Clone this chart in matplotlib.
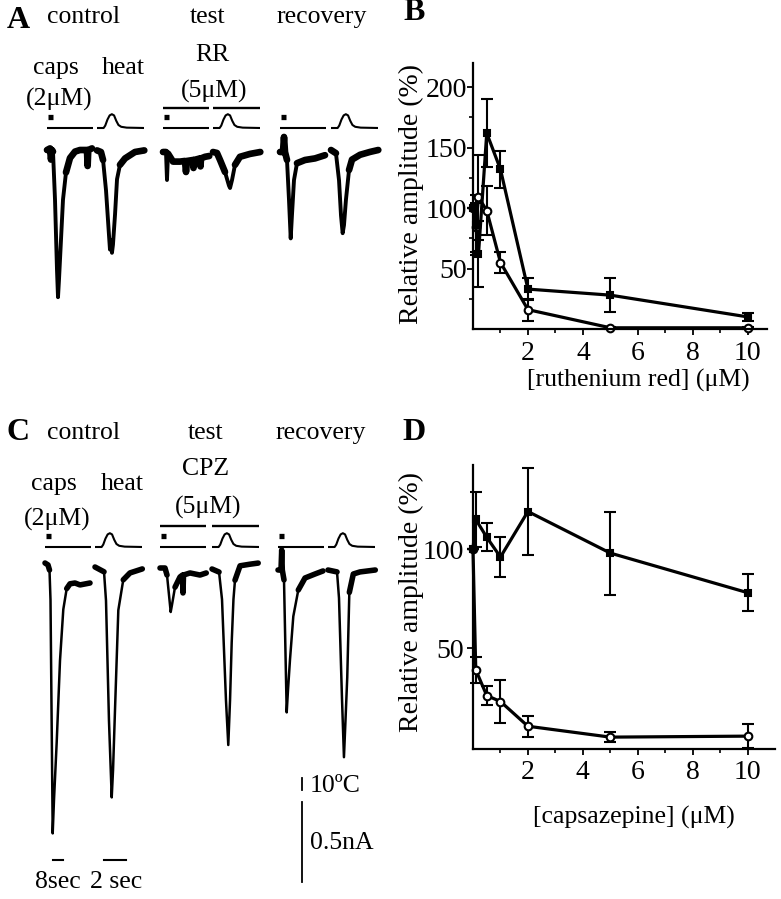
import matplotlib
matplotlib.use("Agg")
import matplotlib.pyplot as plt
import numpy as np

plt.rcParams['font.family'] = ['Liberation Serif', 'DejaVu Serif']

W, H = 781, 899
PX_NA = 160.0        # pixels per nA
PX_C = 1.2           # pixels per degree C
CAPS_PX_S = 1.25     # pixels per second, capsaicin sweeps
HEAT_PX_S = 11.0     # pixels per second, heat sweeps
CAPS_DUR = 37.0
HEAT_DUR = 4.3

# ---- data: current traces (time s, current nA) ----
A_CTRL_CAPS_T = [0, 2.4, 3.2, 4.0, 4.8, 6.4, 8.0, 8.8, 9.6, 11.2, 12.8, 15.2, 18.4, 22.4, 26.4, 30.4, 32.0, 32.5, 33.0, 36.0]
A_CTRL_CAPS_I = [0, 0.01, -0.06, 0, -0.01, -0.31, -0.75, -0.92, -0.81, -0.56, -0.31, -0.14, -0.05, -0.01, 0, 0, 0, -0.1, 0, 0.01]
A_CTRL_HEAT_T = [0, 0.36, 0.55, 0.82, 1.09, 1.18, 1.27, 1.36, 1.45, 1.64, 1.82, 2.09, 2.55, 3.0, 3.45, 4.3]
A_CTRL_HEAT_I = [0.01, 0, -0.05, -0.24, -0.52, -0.61, -0.55, -0.63, -0.58, -0.39, -0.17, -0.08, -0.04, -0.02, 0, 0.01]
A_TEST_CAPS_T = [0, 2.4, 3.2, 4.0, 5.6, 8.0, 13.6, 17.6, 18.4, 19.2, 24.0, 24.4, 24.8, 29.6, 30.0, 30.4, 33.6, 37.0]
A_TEST_CAPS_I = [0, 0, -0.175, -0.01, -0.03, -0.06, -0.06, -0.056, -0.125, -0.056, -0.05, -0.1, -0.05, -0.04, -0.09, -0.04, -0.03, -0.025]
A_TEST_HEAT_T = [0, 0.36, 0.64, 1.09, 1.45, 1.55, 1.73, 2.0, 2.45, 3.36, 4.3]
A_TEST_HEAT_I = [0, -0.006, -0.05, -0.125, -0.21, -0.225, -0.175, -0.08, -0.03, -0.012, 0]
A_REC_CAPS_T = [0, 2.4, 3.2, 4.0, 5.6, 7.2, 8.56, 9.6, 11.2, 13.6, 20.0, 28.0, 36.0]
A_REC_CAPS_I = [0, 0, 0.094, 0, -0.05, -0.3, -0.54, -0.39, -0.175, -0.07, -0.05, -0.04, -0.02]
A_REC_HEAT_T = [0, 0.45, 0.73, 0.91, 1.06, 1.18, 1.36, 1.64, 1.91, 2.64, 3.55, 4.3]
A_REC_HEAT_I = [0, -0.02, -0.19, -0.41, -0.52, -0.47, -0.31, -0.125, -0.06, -0.03, -0.012, 0]

C_CTRL_CAPS_T = [0, 2.4, 3.6, 4.4, 6.16, 7.2, 9.36, 12.0, 14.64, 17.36, 20.0, 24.0, 28.0, 36.0]
C_CTRL_CAPS_I = [0, -0.012, -0.044, -0.23, -1.69, -1.48, -1.12, -0.61, -0.29, -0.16, -0.13, -0.125, -0.137, -0.125]
C_CTRL_HEAT_T = [0, 0.82, 1.0, 1.27, 1.52, 1.64, 1.82, 2.12, 2.57, 3.18, 4.3]
C_CTRL_HEAT_I = [0, -0.03, -0.21, -0.96, -1.44, -1.27, -0.89, -0.27, -0.08, -0.037, -0.012]
C_TEST_CAPS_T = [0, 4.0, 5.6, 8.56, 9.6, 12.0, 16.0, 18.0, 18.4, 18.8, 24.0, 32.0, 37.0]
C_TEST_CAPS_I = [0, 0, -0.044, -0.275, -0.23, -0.12, -0.056, -0.044, -0.156, -0.044, -0.031, -0.044, -0.031]
C_TEST_HEAT_T = [0, 0.64, 0.91, 1.27, 1.48, 1.64, 1.79, 1.95, 2.09, 2.55, 3.45, 4.2]
C_TEST_HEAT_I = [0, -0.019, -0.19, -0.82, -1.1, -0.82, -0.46, -0.19, -0.07, 0.02, 0.03, 0.037]
C_REC_CAPS_T = [0, 2.4, 2.96, 3.44, 4.8, 6.96, 8.0, 9.6, 12.24, 16.24, 21.6, 29.6, 36.0]
C_REC_CAPS_I = [0, 0, 0.125, 0, -0.062, -0.89, -0.75, -0.56, -0.29, -0.125, -0.05, -0.025, -0.006]
C_REC_HEAT_T = [0, 0.82, 1.0, 1.27, 1.45, 1.59, 1.75, 1.94, 2.3, 2.91, 4.3]
C_REC_HEAT_I = [0, -0.012, -0.175, -0.8, -1.17, -0.94, -0.67, -0.14, -0.025, -0.012, 0]

# heat stimulus (time s, temperature rise C) and capsaicin puff (s)
HEAT_T = [0, 0.6, 0.75, 0.95, 1.15, 1.35, 1.55, 1.75, 1.95, 2.2, 2.7, 4.3]
HEAT_DT = [0, 0, 2, 7, 10.5, 11.5, 10.5, 6, 2.5, 1, 0.3, 0]
CAPS_PULSE = (1.0, 4.6)

# ---- data: dose-response ----
RR_CONC = [0, 0.1, 0.2, 0.5, 1, 2, 5, 10]
RR_FILLED = [100, 86, 62, 162, 132, 33, 28, 10]
RR_FILLED_ERR = [0, 25, 27, 28, 15, 9, 14, 3]
RR_OPEN = [100, 84, 109, 98, 55, 16, 1, 1]
RR_OPEN_ERR = [0, 20, 35, 20, 9, 9, 1, 1]

CPZ_CONC = [0, 0.1, 0.5, 1, 2, 5, 10]
CPZ_FILLED = [100, 115, 106, 96, 119, 98, 78]
CPZ_FILLED_ERR = [0, 14, 7, 10, 22, 21, 9.5]
CPZ_OPEN = [100, 39, 26, 23, 10.5, 5, 5.5]
CPZ_OPEN_ERR = [0, 6.7, 4.7, 11, 5.2, 2.5, 6]

fig = plt.figure(figsize=(W / 100, H / 100), dpi=100)


def ftext(x, y, s, **kw):
    kw.setdefault('ha', 'center')
    kw.setdefault('va', 'center')
    kw.setdefault('fontsize', 18.5)
    fig.text(x / W, 1 - y / H, s, **kw)


def sweep(x0, ybase, dur, px_s, above=70, below=330):
    ax = fig.add_axes([x0 / W, 1 - (ybase + below) / H,
                       dur * px_s / W, (above + below) / H])
    ax.set_xlim(0, dur)
    ax.set_ylim(-below / PX_NA, above / PX_NA)
    ax.axis('off')
    return ax


def draw_sweep(x0, ybase, ytemp, t, i, kind, ybar=None, lw=2.0, band=4.5):
    if kind == 'caps':
        dur, px_s = CAPS_DUR, CAPS_PX_S
    else:
        dur, px_s = HEAT_DUR, HEAT_PX_S
    ax = sweep(x0, ybase, dur, px_s)
    ax.plot(t, i, color='black', lw=lw, clip_on=False)
    # noisy baseline: thicker band where the current is near rest
    ib = np.array(i, dtype=float)
    ib[ib < -0.16] = np.nan
    ax.plot(t, ib, color='black', lw=band, solid_capstyle='round', clip_on=False)
    toff = (ybase - ytemp) / PX_NA
    if kind == 'caps':
        ax.plot([0, dur], [toff, toff], color='black', lw=1.5)
        ym = toff + 11 / PX_NA
        ax.plot(CAPS_PULSE, [ym, ym], color='black', lw=3.8, solid_capstyle='butt')
    else:
        ax.plot(HEAT_T, [toff + d * PX_C / PX_NA for d in HEAT_DT], color='black', lw=1.5)
    if ybar is not None:
        yb = (ybase - ybar) / PX_NA
        ax.plot([0, dur], [yb, yb], color='black', lw=1.7)
    return ax


# ---- panel A ----
kwA = dict(lw=2.8, band=4.8)
draw_sweep(47, 150, 128, A_CTRL_CAPS_T, A_CTRL_CAPS_I, 'caps', **kwA)
draw_sweep(97, 152, 128, A_CTRL_HEAT_T, A_CTRL_HEAT_I, 'heat', **kwA)
draw_sweep(163, 152, 128, A_TEST_CAPS_T, A_TEST_CAPS_I, 'caps', ybar=108, **kwA)
draw_sweep(213, 152, 128, A_TEST_HEAT_T, A_TEST_HEAT_I, 'heat', ybar=108, **kwA)
draw_sweep(280, 152, 128, A_REC_CAPS_T, A_REC_CAPS_I, 'caps', **kwA)
draw_sweep(331, 150, 128, A_REC_HEAT_T, A_REC_HEAT_I, 'heat', **kwA)

ftext(18, 20, 'A', fontsize=23, fontweight='bold')
ftext(83, 17, 'control')
ftext(208, 17, 'test')
ftext(322, 17, 'recovery')
ftext(56, 68, 'caps')
ftext(59, 99, '(2μM)')
ftext(123, 68, 'heat')
ftext(212, 55, 'RR')
ftext(214, 91, '(5μM)')

# ---- panel C ----
kwC = dict(lw=1.8, band=4.0)
ax_cc = draw_sweep(45, 563, 547, C_CTRL_CAPS_T, C_CTRL_CAPS_I, 'caps', **kwC)
ax_ch = draw_sweep(95, 567, 547, C_CTRL_HEAT_T, C_CTRL_HEAT_I, 'heat', **kwC)
draw_sweep(160, 568, 547, C_TEST_CAPS_T, C_TEST_CAPS_I, 'caps', ybar=526, **kwC)
draw_sweep(212, 569, 547, C_TEST_HEAT_T, C_TEST_HEAT_I, 'heat', ybar=526, **kwC)
ax_rc = draw_sweep(278, 570, 547, C_REC_CAPS_T, C_REC_CAPS_I, 'caps', **kwC)
draw_sweep(328, 570, 547, C_REC_HEAT_T, C_REC_HEAT_I, 'heat', **kwC)

# scale bars
yb8 = -(860 - 563) / PX_NA
ax_cc.plot([6.4, 6.4 + 8], [yb8, yb8], color='black', lw=1.5)
yb2 = -(860 - 567) / PX_NA
ax_ch.plot([0.82, 0.82 + 2], [yb2, yb2], color='black', lw=1.5)
xs = (302 - 278) / CAPS_PX_S
ytop = -(778 - 570) / PX_NA
ax_rc.plot([xs, xs], [ytop, ytop - 10 * PX_C / PX_NA], color='black', lw=1.3)
ytop = -(802 - 570) / PX_NA
ax_rc.plot([xs, xs], [ytop, ytop - 0.5], color='black', lw=1.3)

ftext(18, 432, 'C', fontsize=23, fontweight='bold')
ftext(83, 433, 'control')
ftext(206, 433, 'test')
ftext(321, 433, 'recovery')
ftext(54, 484, 'caps')
ftext(57, 519, '(2μM)')
ftext(122, 484, 'heat')
ftext(206, 469, 'CPZ')
ftext(208, 507, '(5μM)')
ftext(310, 786, '10ºC', ha='left')
ftext(310, 843, '0.5nA', ha='left')
ftext(58, 882, '8sec')
ftext(116, 882, '2 sec')


# ---- dose-response panels ----
def dose_axes(rect, xlim, ylim):
    ax = fig.add_axes(rect)
    ax.set_xlim(*xlim)
    ax.set_ylim(*ylim)
    for s in ('top', 'right'):
        ax.spines[s].set_visible(False)
    for s in ('left', 'bottom'):
        ax.spines[s].set_linewidth(1.6)
    ax.set_xticks([2, 4, 6, 8, 10])
    ax.set_xticks([1, 3, 5, 7, 9], minor=True)
    ax.tick_params(axis='both', which='major', direction='out', length=4, width=1.3, labelsize=20)
    ax.tick_params(axis='both', which='minor', direction='out', length=3, width=1.2)
    return ax


def dose_series(ax, x, y, err, filled):
    ax.errorbar(x, y, yerr=err, color='black', lw=2.3, elinewidth=1.5, capsize=4,
                capthick=1.5, marker='s' if filled else 'o', ms=5 if filled else 5.5,
                mfc='black' if filled else 'white', mec='black', mew=1.5, clip_on=False)


axB = dose_axes([473 / W, 1 - 329 / H, (767 - 473) / W, (329 - 63) / H], (0, 10.7), (0, 220))
axB.set_yticks([50, 100, 150, 200])
axB.set_yticks([25, 75, 125, 175], minor=True)
axB.tick_params(axis='y', which='major', pad=0.5)
axB.tick_params(axis='x', which='major', pad=5)
dose_series(axB, RR_CONC, RR_OPEN, RR_OPEN_ERR, False)
dose_series(axB, RR_CONC, RR_FILLED, RR_FILLED_ERR, True)
ftext(414, 13, 'B', fontsize=23, fontweight='bold')
ftext(411, 194, 'Relative amplitude (%)', rotation=90, fontsize=20)
ftext(638, 380, '[ruthenium red] (μM)', fontsize=18.5)

axD = dose_axes([473 / W, 1 - 749 / H, (775 - 473) / W, (749 - 465) / H], (0, 11.0), (-1, 142.5))
axD.set_yticks([50, 100])
axD.tick_params(axis='y', which='major', pad=2.5)
axD.tick_params(axis='x', which='major', pad=4)
dose_series(axD, CPZ_CONC, CPZ_OPEN, CPZ_OPEN_ERR, False)
dose_series(axD, CPZ_CONC, CPZ_FILLED, CPZ_FILLED_ERR, True)
ftext(414, 432, 'D', fontsize=23, fontweight='bold')
ftext(411, 602, 'Relative amplitude (%)', rotation=90, fontsize=20)
ftext(634, 817, '[capsazepine] (μM)', fontsize=18.5)

fig.savefig('out.png', dpi=100)
